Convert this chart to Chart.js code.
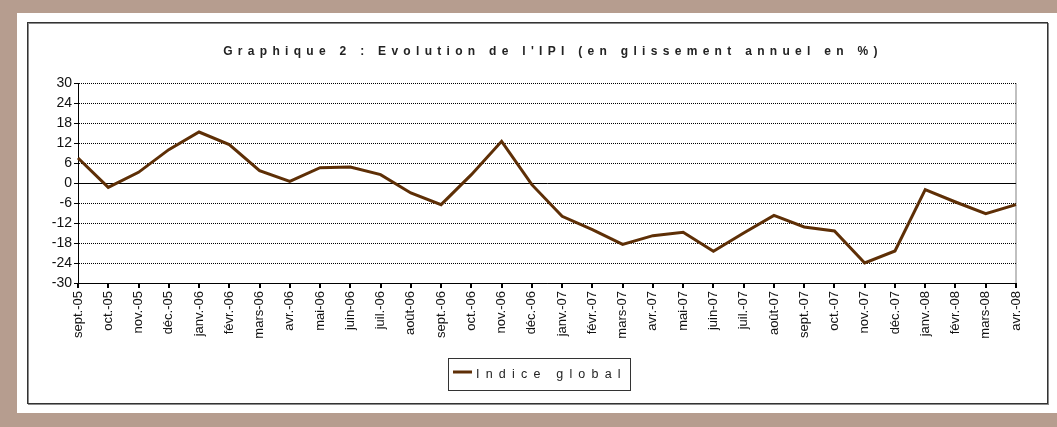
<!DOCTYPE html>
<html>
<head>
<meta charset="utf-8">
<script src="https://cdn.jsdelivr.net/npm/chart.js@4.4.0/dist/chart.umd.min.js"></script>
<style>
  html, body { margin: 0; padding: 0; background: #b69d8f; }
  canvas { display: block; }
</style>
</head>
<body>
<canvas id="ipiChart" width="1057" height="427"></canvas>
<script>
const months = ['sept.-05', 'oct.-05', 'nov.-05', 'déc.-05', 'janv.-06', 'févr.-06', 'mars-06', 'avr.-06',
    'mai-06', 'juin-06', 'juil.-06', 'août-06', 'sept.-06', 'oct.-06', 'nov.-06', 'déc.-06',
    'janv.-07', 'févr.-07', 'mars-07', 'avr.-07', 'mai-07', 'juin-07', 'juil.-07', 'août-07',
    'sept.-07', 'oct.-07', 'nov.-07', 'déc.-07', 'janv.-08', 'févr.-08', 'mars-08', 'avr.-08'];
const ipiValues = [7.5, -1.3, 3.2, 10.0, 15.3, 11.5, 3.7, 0.5,
    4.6, 4.8, 2.5, -3.0, -6.5, 2.5, 12.5, -0.5,
    -10.0, -14.0, -18.4, -15.8, -14.8, -20.5, -15.0, -9.7,
    -13.2, -14.4, -24.0, -20.4, -2.0, -5.7, -9.2, -6.5];
const yMin = -30;
const yMax = 30;
const yStep = 6;
const chartTitle = "Graphique 2 : Evolution de l'IPI (en glissement annuel en %)";
const seriesLabel = 'Indice global';

const lineColor = '#5e2f06';
const fontFamily = '"Liberation Sans", Arial, sans-serif';

// frame, title and the boxed legend
const framePlugin = {
    id: 'frame',
    beforeDraw(chart) {
        const ctx = chart.ctx;
        ctx.save();
        ctx.fillStyle = '#b69d8f';
        ctx.fillRect(0, 0, chart.width, chart.height);
        ctx.fillStyle = '#ffffff';
        ctx.fillRect(17, 13, chart.width - 17, 400);
        ctx.strokeStyle = '#8a8a8a';
        ctx.lineWidth = 1;
        ctx.strokeRect(28.5, 23.5, 1020, 381);
        ctx.strokeStyle = '#333333';
        ctx.strokeRect(27.5, 22.5, 1020, 381);
        ctx.restore();
    },
    afterDraw(chart) {
        const ctx = chart.ctx;
        ctx.save();
        ctx.fillStyle = '#222222';
        ctx.font = 'bold 12px ' + fontFamily;
        ctx.letterSpacing = '5.3px';
        ctx.textAlign = 'center';
        ctx.textBaseline = 'alphabetic';
        ctx.fillText(chartTitle, 553, 55);

        ctx.letterSpacing = '6.2px';
        ctx.font = '12.5px ' + fontFamily;
        ctx.textAlign = 'left';
        ctx.strokeStyle = '#333333';
        ctx.lineWidth = 1;
        ctx.strokeRect(448.5, 358.5, 182, 32);
        ctx.strokeStyle = lineColor;
        ctx.lineWidth = 3;
        ctx.beginPath();
        ctx.moveTo(453, 372);
        ctx.lineTo(472, 372);
        ctx.stroke();
        ctx.fillStyle = '#222222';
        ctx.fillText(seriesLabel, 476, 378);
        ctx.restore();
    }
};

const chart = new Chart(document.getElementById('ipiChart').getContext('2d'), {
    type: 'line',
    data: {
        labels: months,
        datasets: [{
            label: seriesLabel,
            data: ipiValues,
            borderColor: lineColor,
            borderWidth: 3,
            pointRadius: 0,
            tension: 0,
            fill: false
        }]
    },
    options: {
        responsive: false,
        animation: false,
        layout: { padding: { left: 28, right: 41, top: 83, bottom: 74 } },
        plugins: {
            legend: { display: false },
            title: { display: false },
            tooltip: { enabled: false }
        },
        scales: {
            x: {
                afterFit(scale) { scale.height = 70; },
                grid: {
                    color: (c) => c.index === months.length - 1 ? '#c0c0c0' : 'transparent',
                    lineWidth: 2,
                    tickColor: '#000000',
                    tickLength: 5,
                    drawOnChartArea: true
                },
                border: { color: '#000000', width: 1 },
                ticks: {
                    autoSkip: false,
                    minRotation: 90,
                    maxRotation: 90,
                    padding: 3,
                    color: '#111111',
                    font: { family: fontFamily, size: 13 }
                }
            },
            y: {
                min: yMin,
                max: yMax,
                afterFit(scale) { scale.width = 50; },
                grid: {
                    color: '#000000',
                    lineWidth: 1,
                    tickColor: '#000000',
                    tickLength: 4
                },
                border: {
                    color: '#000000',
                    width: 1,
                    dash: (c) => (c.tick && c.tick.value !== 0 && c.tick.value !== yMin) ? [1, 1] : []
                },
                ticks: {
                    stepSize: yStep,
                    padding: 2,
                    color: '#111111',
                    font: { family: fontFamily, size: 14 }
                }
            }
        }
    },
    plugins: [framePlugin]
});
</script>
</body>
</html>
